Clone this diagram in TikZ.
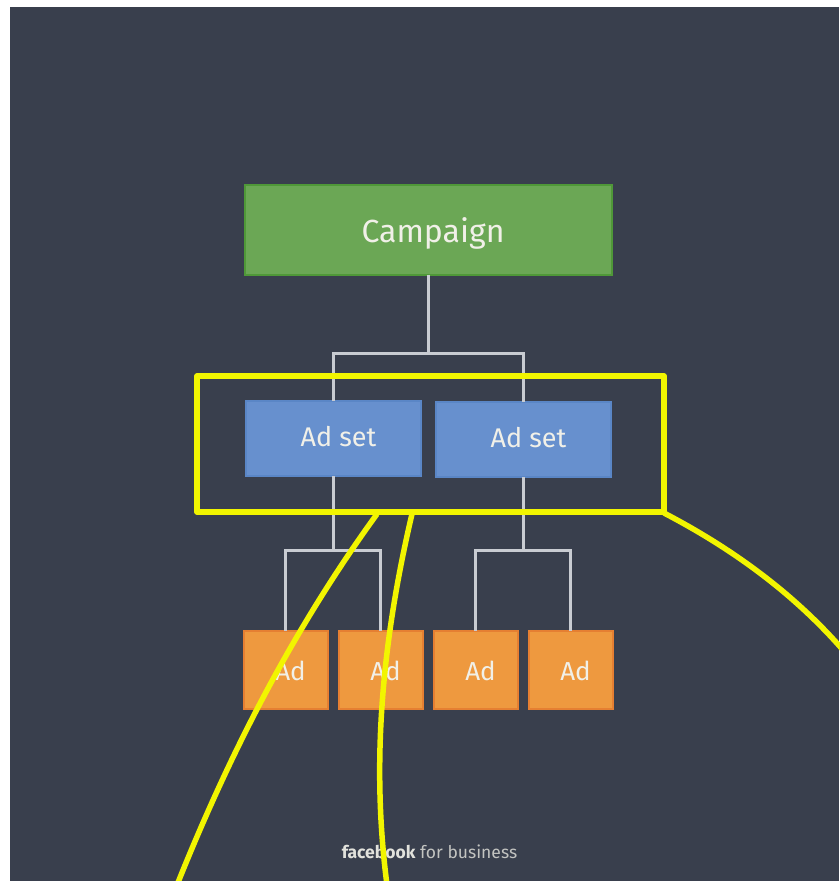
\documentclass[tikz,border=0pt]{standalone}
\usepackage{fontspec}
\setmainfont{Fira Sans}
\definecolor{bgc}{HTML}{393F4D}
\definecolor{greenf}{HTML}{6BA755}
\definecolor{greend}{HTML}{4F9838}
\definecolor{bluef}{HTML}{6790CE}
\definecolor{blued}{HTML}{5A86C6}
\definecolor{orangef}{HTML}{EE993F}
\definecolor{oranged}{HTML}{E57F32}
\definecolor{linec}{HTML}{C9CCD2}
\definecolor{yel}{HTML}{F2F500}
\definecolor{txt}{HTML}{F1F0E8}
\tikzset{
  every node/.style={inner sep=0pt,outer sep=0pt},
  boxbase/.style={rectangle,line width=2pt,anchor=north west},
  campbox/.style={boxbase,draw=greend,fill=greenf,minimum width=367pt,minimum height=90pt},
  setbox/.style={boxbase,draw=blued,fill=bluef,minimum width=175pt,minimum height=75pt},
  adbox/.style={boxbase,draw=oranged,fill=orangef,minimum width=84pt,minimum height=78pt},
  lab/.style={text=txt,font=\fontsize{#1}{#1}\selectfont,xshift=5pt,yshift=-1pt},
  tree/.style={draw=linec,line width=3pt,line join=miter},
  hl/.style={draw=yel,line width=5.5pt},
}
\begin{document}
\begin{tikzpicture}[x=1pt,y=-1pt]
\useasboundingbox (0,0) rectangle (839,881);
\fill[white] (0,0) rectangle (839,881);
\fill[bgc] (10,7) rectangle (839,881);
% boxes
\node[campbox,label={[lab=32,yshift=-3pt]center:Campaign}] (camp) at (244.5,184.5) {};
\node[setbox,label={[lab=27,yshift=3pt]center:Ad set}] (s1) at (246,401) {};
\node[setbox,label={[lab=27,yshift=3pt]center:Ad set}] (s2) at (436,402) {};
\node[adbox,label={[lab=26]center:Ad}] (a1) at (243.5,630.5) {};
\node[adbox,label={[lab=26]center:Ad}] (a2) at (338.5,630.5) {};
\node[adbox,label={[lab=26]center:Ad}] (a3) at (433.5,630.5) {};
\node[adbox,label={[lab=26]center:Ad}] (a4) at (528.5,630.5) {};
% tree
\coordinate (j0) at (428,353);
\coordinate (j1) at (333.5,550);
\coordinate (j2) at (523.5,550);
\draw[tree] (camp.south) -- (j0);
\draw[tree] (s1.north) |- (j0) -| (s2.north);
\draw[tree] (s1.south) -- (j1);
\draw[tree] (s2.south) -- (j2);
\draw[tree] (a1.north) |- (j1) -| (a2.north);
\draw[tree] (a3.north) |- (j2) -| (a4.north);
% footer
\node[text=txt!92!bgc,font=\fontsize{17.5}{18}\selectfont,anchor=center] (foot) at (429.5,851.5) {\textbf{facebook} {\color{txt!75!bgc}for business}};
% highlight
\node[hl,draw,rectangle,anchor=north west,minimum width=467pt,minimum height=136pt,line join=round] (hi) at (197,376) {};
\coordinate (c1) at (377,514);
\coordinate (c1e) at (177,885);
\coordinate (c2) at (412,514);
\coordinate (c2e) at (387,885);
\coordinate (c3) at (664,513);
\coordinate (c3e) at (843,650);
\draw[hl] (c1) .. controls (300,620) and (235,740) .. (c1e);
\draw[hl] (c2) .. controls (380,650) and (372,770) .. (c2e);
\draw[hl] (c3) .. controls (735,550) and (795,595) .. (c3e);
\end{tikzpicture}
\end{document}
